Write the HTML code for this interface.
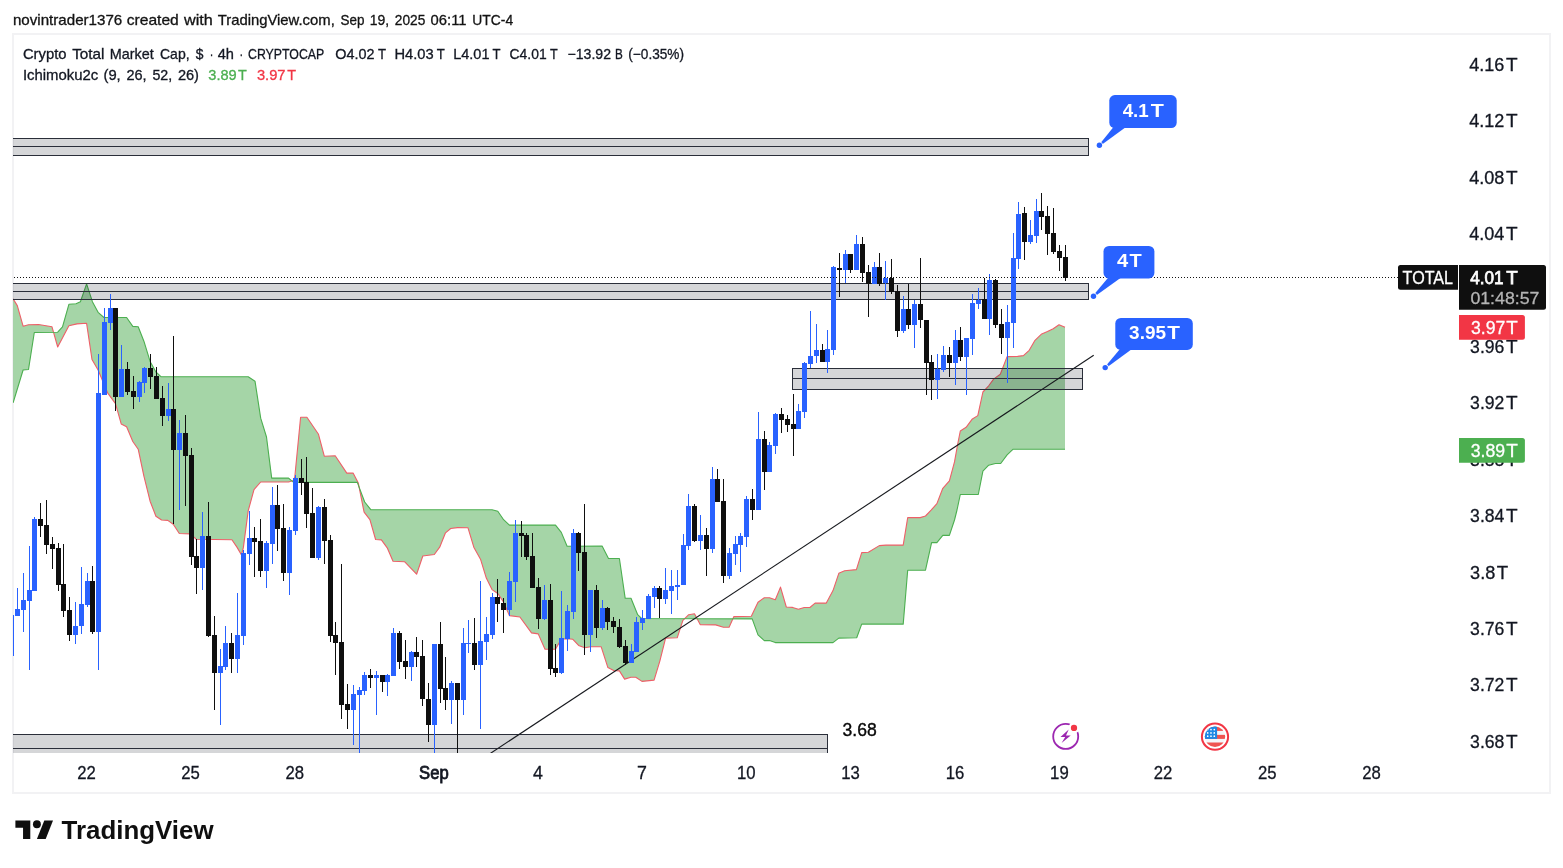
<!DOCTYPE html>
<html lang="en"><head><meta charset="utf-8"><title>TOTAL chart</title>
<style>html,body{margin:0;padding:0;background:#fff}body{width:1563px;height:868px;overflow:hidden}svg{display:block;font-family:"Liberation Sans", Arial, sans-serif}text{white-space:pre}</style></head><body>
<svg width="1563" height="868" viewBox="0 0 1563 868">
<rect width="1563" height="868" fill="#fff"/>
<rect x="13" y="34" width="1537" height="759" fill="none" stroke="#f2f2f4" stroke-width="2"/>
<text y="25" font-size="14.4" fill="#131313" stroke="#131313" stroke-width="0.3"><tspan x="12.9" textLength="109.4" lengthAdjust="spacingAndGlyphs">novintrader1376</tspan> <tspan x="126.7" textLength="52.1" lengthAdjust="spacingAndGlyphs">created</tspan> <tspan x="184.0" textLength="28.8" lengthAdjust="spacingAndGlyphs">with</tspan> <tspan x="217.7" textLength="117.1" lengthAdjust="spacingAndGlyphs">TradingView.com,</tspan> <tspan x="340.5" textLength="23.9" lengthAdjust="spacingAndGlyphs">Sep</tspan> <tspan x="369.7" textLength="19.4" lengthAdjust="spacingAndGlyphs">19,</tspan> <tspan x="394.8" textLength="30.5" lengthAdjust="spacingAndGlyphs">2025</tspan> <tspan x="430.6" textLength="35.9" lengthAdjust="spacingAndGlyphs">06:11</tspan> <tspan x="472.3" textLength="40.8" lengthAdjust="spacingAndGlyphs">UTC-4</tspan></text>
<text y="58.8" font-size="14.4" fill="#131722" stroke="#131722" stroke-width="0.3"><tspan x="22.9" textLength="43.6" lengthAdjust="spacingAndGlyphs">Crypto</tspan> <tspan x="72.2" textLength="32.3" lengthAdjust="spacingAndGlyphs">Total</tspan> <tspan x="109.8" textLength="44.0" lengthAdjust="spacingAndGlyphs">Market</tspan> <tspan x="160.0" textLength="29.6" lengthAdjust="spacingAndGlyphs">Cap,</tspan> <tspan x="195.8" textLength="7.7" lengthAdjust="spacingAndGlyphs">$</tspan> <tspan x="209.7" textLength="3.6" lengthAdjust="spacingAndGlyphs">·</tspan> <tspan x="217.7" textLength="16.3" lengthAdjust="spacingAndGlyphs">4h</tspan> <tspan x="239.5" textLength="3.6" lengthAdjust="spacingAndGlyphs">·</tspan> <tspan x="248.0" textLength="76.0" lengthAdjust="spacingAndGlyphs">CRYPTOCAP</tspan> <tspan x="335.3" textLength="39.2" lengthAdjust="spacingAndGlyphs">O4.02</tspan> <tspan x="377.9" textLength="7.8" lengthAdjust="spacingAndGlyphs">T</tspan> <tspan x="394.4" textLength="39.2" lengthAdjust="spacingAndGlyphs">H4.03</tspan> <tspan x="436.7" textLength="7.8" lengthAdjust="spacingAndGlyphs">T</tspan> <tspan x="453.2" textLength="36.3" lengthAdjust="spacingAndGlyphs">L4.01</tspan> <tspan x="492.6" textLength="7.8" lengthAdjust="spacingAndGlyphs">T</tspan> <tspan x="509.6" textLength="37.0" lengthAdjust="spacingAndGlyphs">C4.01</tspan> <tspan x="550.0" textLength="7.5" lengthAdjust="spacingAndGlyphs">T</tspan> <tspan x="567.5" textLength="43.5" lengthAdjust="spacingAndGlyphs">−13.92</tspan> <tspan x="614.9" textLength="7.8" lengthAdjust="spacingAndGlyphs">B</tspan> <tspan x="628.3" textLength="55.7" lengthAdjust="spacingAndGlyphs">(−0.35%)</tspan></text>
<text y="79.9" font-size="14.4" fill="#131722" stroke="#131722" stroke-width="0.3"><tspan x="22.9" textLength="75.4" lengthAdjust="spacingAndGlyphs">Ichimoku2c</tspan> <tspan x="103.5" textLength="17.2" lengthAdjust="spacingAndGlyphs">(9,</tspan> <tspan x="126.4" textLength="20.2" lengthAdjust="spacingAndGlyphs">26,</tspan> <tspan x="152.4" textLength="19.8" lengthAdjust="spacingAndGlyphs">52,</tspan> <tspan x="177.9" textLength="21.1" lengthAdjust="spacingAndGlyphs">26)</tspan></text>
<text y="79.9" font-size="14.4" fill="#4caf50" stroke="#4caf50" stroke-width="0.3"><tspan x="208.3" textLength="28.4" lengthAdjust="spacingAndGlyphs">3.89</tspan> <tspan x="237.9" textLength="8.8" lengthAdjust="spacingAndGlyphs">T</tspan></text>
<text y="79.9" font-size="14.4" fill="#f23645" stroke="#f23645" stroke-width="0.3"><tspan x="256.9" textLength="28.6" lengthAdjust="spacingAndGlyphs">3.97</tspan> <tspan x="287.2" textLength="8.8" lengthAdjust="spacingAndGlyphs">T</tspan></text>
<defs><clipPath id="pane"><rect x="13" y="35" width="1446" height="718"/></clipPath></defs>
<g clip-path="url(#pane)">
<polygon points="13.1,402.8 23.1,370.0 28.5,369.5 34.3,332.5 57.7,332.2 62.5,326.8 68.9,304.3 76.0,303.7 80.4,301.7 86.6,283.9 92.4,301.7 98.1,312.3 103.9,317.5 126.6,317.5 132.8,326.4 138.2,326.8 143.9,341.2 150.1,361.4 155.9,372.0 161.2,376.8 248.2,376.8 255.0,381.2 260.7,418.2 266.5,437.0 271.7,478.1 288.6,478.1 292.9,481.8 294.8,482.4 357.3,482.4 364.7,502.0 370.8,509.7 492.0,509.7 497.8,511.2 503.6,519.7 509.4,525.1 555.5,525.1 561.3,532.4 567.1,546.2 602.1,546.0 608.5,558.5 619.4,558.5 625.2,598.3 631.0,598.3 637.7,614.7 641.6,618.5 752.2,618.9 758.0,634.9 764.3,640.6 769.5,640.6 775.3,642.6 833.0,642.6 838.8,638.1 856.7,637.8 861.7,624.1 903.2,624.1 907.7,570.2 925.5,570.2 931.6,542.6 936.9,542.6 942.8,535.4 949.4,535.4 954.5,520.0 957.0,510.0 960.3,494.5 978.3,494.5 982.9,471.1 988.7,465.2 995.4,463.5 1000.7,463.5 1007.1,454.9 1012.9,449.3 1065.0,449.3 1065.0,327.2 1059.0,324.7 1053.2,328.7 1047.5,331.6 1041.7,333.9 1035.0,340.3 1029.2,350.3 1023.4,355.6 1017.6,356.4 1007.1,356.6 1000.3,374.3 993.6,379.1 988.7,385.8 982.9,392.0 977.8,415.6 972.0,419.3 966.1,427.3 960.3,431.0 957.8,443.5 954.5,461.9 949.4,480.8 942.8,488.3 936.9,503.6 931.1,510.2 925.5,516.0 920.2,517.6 907.7,517.6 903.2,545.1 885.9,545.1 879.3,545.6 868.4,552.3 861.7,552.6 856.4,569.6 844.6,570.8 838.8,573.3 833.0,590.6 826.3,603.1 815.1,603.1 809.9,607.5 804.2,607.5 798.4,609.3 792.6,607.4 786.3,607.0 780.5,587.1 775.3,599.7 769.5,597.7 764.3,597.7 758.0,602.2 751.3,616.2 733.9,616.6 729.1,627.2 723.4,627.2 715.7,624.9 700.3,624.7 694.5,613.7 688.7,614.7 682.9,620.4 677.2,637.8 665.6,638.1 659.9,660.8 654.1,680.1 642.0,681.4 635.8,677.2 631.0,677.2 624.6,679.1 619.4,670.9 613.7,670.5 607.9,667.6 601.2,646.8 590.6,646.8 584.8,647.8 578.6,645.4 572.9,639.3 567.1,638.7 561.3,639.1 555.5,649.3 545.0,649.3 538.2,633.9 531.5,632.9 519.9,617.0 509.4,615.6 503.6,602.1 497.8,593.5 492.0,589.6 486.3,578.1 480.5,559.2 473.8,547.2 468.0,527.8 457.4,527.6 450.7,528.5 445.5,532.8 439.7,547.2 434.3,554.5 422.8,556.0 416.6,574.2 404.5,561.7 393.0,561.2 387.2,547.8 381.4,539.9 375.6,539.5 369.9,519.7 364.1,512.2 358.3,483.1 353.1,473.1 346.8,473.1 335.2,455.8 324.3,456.2 318.5,434.3 306.9,417.3 300.6,417.3 294.8,477.0 293.4,480.4 288.6,482.0 260.7,482.0 254.0,489.6 248.2,510.8 243.4,547.4 241.5,555.0 237.1,547.4 231.9,539.7 196.3,539.3 190.5,533.9 179.3,533.5 173.2,524.3 167.8,520.4 161.6,520.0 155.9,516.2 150.1,501.2 143.9,476.2 138.2,449.2 132.8,441.5 126.6,426.8 121.2,423.9 115.5,403.7 107.8,393.2 98.1,370.0 92.0,359.5 86.6,323.3 77.0,323.9 68.9,325.8 57.7,347.0 52.0,326.8 38.5,324.5 28.5,324.8 23.1,326.2 17.3,305.6 13.1,298.9" fill="rgba(76,172,80,0.5)" fill-rule="nonzero"/>
<polyline points="13.1,298.9 17.3,305.6 23.1,326.2 28.5,324.8 38.5,324.5 52.0,326.8 57.7,347.0 68.9,325.8 77.0,323.9 86.6,323.3 92.0,359.5 98.1,370.0 107.8,393.2 115.5,403.7 121.2,423.9 126.6,426.8 132.8,441.5 138.2,449.2 143.9,476.2 150.1,501.2 155.9,516.2 161.6,520.0 167.8,520.4 173.2,524.3 179.3,533.5 190.5,533.9 196.3,539.3 231.9,539.7 237.1,547.4 241.5,555.0 243.4,547.4 248.2,510.8 254.0,489.6 260.7,482.0 288.6,482.0 293.4,480.4 294.8,477.0 300.6,417.3 306.9,417.3 318.5,434.3 324.3,456.2 335.2,455.8 346.8,473.1 353.1,473.1 358.3,483.1 364.1,512.2 369.9,519.7 375.6,539.5 381.4,539.9 387.2,547.8 393.0,561.2 404.5,561.7 416.6,574.2 422.8,556.0 434.3,554.5 439.7,547.2 445.5,532.8 450.7,528.5 457.4,527.6 468.0,527.8 473.8,547.2 480.5,559.2 486.3,578.1 492.0,589.6 497.8,593.5 503.6,602.1 509.4,615.6 519.9,617.0 531.5,632.9 538.2,633.9 545.0,649.3 555.5,649.3 561.3,639.1 567.1,638.7 572.9,639.3 578.6,645.4 584.8,647.8 590.6,646.8 601.2,646.8 607.9,667.6 613.7,670.5 619.4,670.9 624.6,679.1 631.0,677.2 635.8,677.2 642.0,681.4 654.1,680.1 659.9,660.8 665.6,638.1 677.2,637.8 682.9,620.4 688.7,614.7 694.5,613.7 700.3,624.7 715.7,624.9 723.4,627.2 729.1,627.2 733.9,616.6 751.3,616.2 758.0,602.2 764.3,597.7 769.5,597.7 775.3,599.7 780.5,587.1 786.3,607.0 792.6,607.4 798.4,609.3 804.2,607.5 809.9,607.5 815.1,603.1 826.3,603.1 833.0,590.6 838.8,573.3 844.6,570.8 856.4,569.6 861.7,552.6 868.4,552.3 879.3,545.6 885.9,545.1 903.2,545.1 907.7,517.6 920.2,517.6 925.5,516.0 931.1,510.2 936.9,503.6 942.8,488.3 949.4,480.8 954.5,461.9 957.8,443.5 960.3,431.0 966.1,427.3 972.0,419.3 977.8,415.6 982.9,392.0 988.7,385.8 993.6,379.1 1000.3,374.3 1007.1,356.6 1017.6,356.4 1023.4,355.6 1029.2,350.3 1035.0,340.3 1041.7,333.9 1047.5,331.6 1053.2,328.7 1059.0,324.7 1065.0,327.2" fill="none" stroke="#ee5f68" stroke-width="1.1" stroke-linejoin="round"/>
<polyline points="13.1,402.8 23.1,370.0 28.5,369.5 34.3,332.5 57.7,332.2 62.5,326.8 68.9,304.3 76.0,303.7 80.4,301.7 86.6,283.9 92.4,301.7 98.1,312.3 103.9,317.5 126.6,317.5 132.8,326.4 138.2,326.8 143.9,341.2 150.1,361.4 155.9,372.0 161.2,376.8 248.2,376.8 255.0,381.2 260.7,418.2 266.5,437.0 271.7,478.1 288.6,478.1 292.9,481.8 294.8,482.4 357.3,482.4 364.7,502.0 370.8,509.7 492.0,509.7 497.8,511.2 503.6,519.7 509.4,525.1 555.5,525.1 561.3,532.4 567.1,546.2 602.1,546.0 608.5,558.5 619.4,558.5 625.2,598.3 631.0,598.3 637.7,614.7 641.6,618.5 752.2,618.9 758.0,634.9 764.3,640.6 769.5,640.6 775.3,642.6 833.0,642.6 838.8,638.1 856.7,637.8 861.7,624.1 903.2,624.1 907.7,570.2 925.5,570.2 931.6,542.6 936.9,542.6 942.8,535.4 949.4,535.4 954.5,520.0 957.0,510.0 960.3,494.5 978.3,494.5 982.9,471.1 988.7,465.2 995.4,463.5 1000.7,463.5 1007.1,454.9 1012.9,449.3 1065.0,449.3" fill="none" stroke="#4caf50" stroke-width="1.1" stroke-linejoin="round"/>
<rect x="0" y="138.5" width="1088.5" height="17.0" fill="rgba(19,23,34,0.178)"/>
<g shape-rendering="crispEdges">
<line x1="0" y1="138.5" x2="1088.5" y2="138.5" stroke="#2a2e39" stroke-width="1"/>
<line x1="0" y1="146.5" x2="1088.5" y2="146.5" stroke="#2a2e39" stroke-width="1"/>
<line x1="0" y1="155.5" x2="1088.5" y2="155.5" stroke="#2a2e39" stroke-width="1"/>
<line x1="1088.5" y1="138.0" x2="1088.5" y2="156.0" stroke="#2a2e39" stroke-width="1"/>
</g>
<rect x="0" y="283.5" width="1088.5" height="16.0" fill="rgba(19,23,34,0.178)"/>
<g shape-rendering="crispEdges">
<line x1="0" y1="283.5" x2="1088.5" y2="283.5" stroke="#2a2e39" stroke-width="1"/>
<line x1="0" y1="291.5" x2="1088.5" y2="291.5" stroke="#2a2e39" stroke-width="1"/>
<line x1="0" y1="299.5" x2="1088.5" y2="299.5" stroke="#2a2e39" stroke-width="1"/>
<line x1="1088.5" y1="283.0" x2="1088.5" y2="300.0" stroke="#2a2e39" stroke-width="1"/>
</g>
<rect x="792.5" y="368.5" width="290.0" height="21.0" fill="rgba(19,23,34,0.178)"/>
<g shape-rendering="crispEdges">
<line x1="792.5" y1="368.5" x2="1082.5" y2="368.5" stroke="#2a2e39" stroke-width="1"/>
<line x1="792.5" y1="378.5" x2="1082.5" y2="378.5" stroke="#2a2e39" stroke-width="1"/>
<line x1="792.5" y1="389.5" x2="1082.5" y2="389.5" stroke="#2a2e39" stroke-width="1"/>
<line x1="1082.5" y1="368.0" x2="1082.5" y2="390.0" stroke="#2a2e39" stroke-width="1"/>
<line x1="792.5" y1="368.0" x2="792.5" y2="390.0" stroke="#2a2e39" stroke-width="1"/>
</g>
<rect x="0" y="734.5" width="827.5" height="28.0" fill="rgba(19,23,34,0.178)"/>
<g shape-rendering="crispEdges">
<line x1="0" y1="734.5" x2="827.5" y2="734.5" stroke="#2a2e39" stroke-width="1"/>
<line x1="0" y1="748.5" x2="827.5" y2="748.5" stroke="#2a2e39" stroke-width="1"/>
<line x1="0" y1="762.5" x2="827.5" y2="762.5" stroke="#2a2e39" stroke-width="1"/>
<line x1="827.5" y1="734.0" x2="827.5" y2="763.0" stroke="#2a2e39" stroke-width="1"/>
</g>
<line x1="476.3" y1="762.7" x2="1093.7" y2="355.3" stroke="#16181d" stroke-width="1.1"/>
<g shape-rendering="crispEdges">
<rect x="13" y="615" width="1" height="41" fill="#2962ff"/>
<rect x="17" y="588" width="1" height="28" fill="#2962ff"/>
<rect x="15" y="609" width="5" height="7" fill="#2962ff"/>
<rect x="23" y="573" width="1" height="59" fill="#2962ff"/>
<rect x="21" y="600" width="5" height="10" fill="#2962ff"/>
<rect x="29" y="546" width="1" height="124" fill="#2962ff"/>
<rect x="27" y="590" width="5" height="11" fill="#2962ff"/>
<rect x="34" y="517" width="1" height="74" fill="#2962ff"/>
<rect x="32" y="519" width="5" height="72" fill="#2962ff"/>
<rect x="40" y="503" width="1" height="34" fill="#0f0f0f"/>
<rect x="38" y="519" width="5" height="7" fill="#0f0f0f"/>
<rect x="46" y="500" width="1" height="54" fill="#0f0f0f"/>
<rect x="44" y="525" width="5" height="20" fill="#0f0f0f"/>
<rect x="52" y="537" width="1" height="32" fill="#0f0f0f"/>
<rect x="50" y="544" width="5" height="5" fill="#0f0f0f"/>
<rect x="58" y="543" width="1" height="48" fill="#0f0f0f"/>
<rect x="56" y="548" width="5" height="37" fill="#0f0f0f"/>
<rect x="63" y="544" width="1" height="73" fill="#0f0f0f"/>
<rect x="61" y="584" width="5" height="27" fill="#0f0f0f"/>
<rect x="69" y="597" width="1" height="44" fill="#0f0f0f"/>
<rect x="67" y="610" width="5" height="25" fill="#0f0f0f"/>
<rect x="75" y="602" width="1" height="42" fill="#2962ff"/>
<rect x="73" y="626" width="5" height="9" fill="#2962ff"/>
<rect x="81" y="567" width="1" height="67" fill="#2962ff"/>
<rect x="79" y="604" width="5" height="22" fill="#2962ff"/>
<rect x="87" y="573" width="1" height="34" fill="#2962ff"/>
<rect x="85" y="581" width="5" height="24" fill="#2962ff"/>
<rect x="92" y="566" width="1" height="68" fill="#0f0f0f"/>
<rect x="90" y="581" width="5" height="51" fill="#0f0f0f"/>
<rect x="98" y="354" width="1" height="316" fill="#2962ff"/>
<rect x="96" y="393" width="5" height="239" fill="#2962ff"/>
<rect x="104" y="308" width="1" height="87" fill="#2962ff"/>
<rect x="102" y="322" width="5" height="73" fill="#2962ff"/>
<rect x="110" y="294" width="1" height="36" fill="#2962ff"/>
<rect x="108" y="308" width="5" height="15" fill="#2962ff"/>
<rect x="115" y="308" width="1" height="103" fill="#0f0f0f"/>
<rect x="113" y="308" width="5" height="89" fill="#0f0f0f"/>
<rect x="121" y="345" width="1" height="52" fill="#2962ff"/>
<rect x="119" y="369" width="5" height="28" fill="#2962ff"/>
<rect x="127" y="362" width="1" height="33" fill="#0f0f0f"/>
<rect x="125" y="369" width="5" height="23" fill="#0f0f0f"/>
<rect x="133" y="376" width="1" height="33" fill="#0f0f0f"/>
<rect x="131" y="391" width="5" height="6" fill="#0f0f0f"/>
<rect x="139" y="381" width="1" height="21" fill="#2962ff"/>
<rect x="137" y="382" width="5" height="15" fill="#2962ff"/>
<rect x="144" y="367" width="1" height="26" fill="#2962ff"/>
<rect x="142" y="368" width="5" height="15" fill="#2962ff"/>
<rect x="150" y="354" width="1" height="35" fill="#0f0f0f"/>
<rect x="148" y="368" width="5" height="9" fill="#0f0f0f"/>
<rect x="156" y="367" width="1" height="32" fill="#0f0f0f"/>
<rect x="154" y="376" width="5" height="23" fill="#0f0f0f"/>
<rect x="162" y="386" width="1" height="40" fill="#0f0f0f"/>
<rect x="160" y="398" width="5" height="18" fill="#0f0f0f"/>
<rect x="168" y="383" width="1" height="38" fill="#2962ff"/>
<rect x="166" y="409" width="5" height="7" fill="#2962ff"/>
<rect x="173" y="336" width="1" height="188" fill="#0f0f0f"/>
<rect x="171" y="409" width="5" height="41" fill="#0f0f0f"/>
<rect x="179" y="420" width="1" height="90" fill="#2962ff"/>
<rect x="177" y="433" width="5" height="17" fill="#2962ff"/>
<rect x="185" y="415" width="1" height="91" fill="#0f0f0f"/>
<rect x="183" y="433" width="5" height="23" fill="#0f0f0f"/>
<rect x="191" y="448" width="1" height="117" fill="#0f0f0f"/>
<rect x="189" y="455" width="5" height="102" fill="#0f0f0f"/>
<rect x="196" y="539" width="1" height="55" fill="#0f0f0f"/>
<rect x="194" y="556" width="5" height="12" fill="#0f0f0f"/>
<rect x="202" y="512" width="1" height="78" fill="#2962ff"/>
<rect x="200" y="536" width="5" height="32" fill="#2962ff"/>
<rect x="208" y="502" width="1" height="135" fill="#0f0f0f"/>
<rect x="206" y="536" width="5" height="100" fill="#0f0f0f"/>
<rect x="214" y="616" width="1" height="94" fill="#0f0f0f"/>
<rect x="212" y="635" width="5" height="38" fill="#0f0f0f"/>
<rect x="220" y="649" width="1" height="76" fill="#2962ff"/>
<rect x="218" y="666" width="5" height="7" fill="#2962ff"/>
<rect x="225" y="626" width="1" height="44" fill="#2962ff"/>
<rect x="223" y="643" width="5" height="24" fill="#2962ff"/>
<rect x="231" y="633" width="1" height="40" fill="#0f0f0f"/>
<rect x="229" y="643" width="5" height="16" fill="#0f0f0f"/>
<rect x="237" y="593" width="1" height="80" fill="#2962ff"/>
<rect x="235" y="635" width="5" height="24" fill="#2962ff"/>
<rect x="243" y="550" width="1" height="95" fill="#2962ff"/>
<rect x="241" y="553" width="5" height="83" fill="#2962ff"/>
<rect x="249" y="511" width="1" height="54" fill="#2962ff"/>
<rect x="247" y="538" width="5" height="16" fill="#2962ff"/>
<rect x="254" y="527" width="1" height="50" fill="#0f0f0f"/>
<rect x="252" y="538" width="5" height="4" fill="#0f0f0f"/>
<rect x="260" y="519" width="1" height="58" fill="#0f0f0f"/>
<rect x="258" y="541" width="5" height="30" fill="#0f0f0f"/>
<rect x="266" y="541" width="1" height="47" fill="#2962ff"/>
<rect x="264" y="543" width="5" height="28" fill="#2962ff"/>
<rect x="272" y="487" width="1" height="77" fill="#2962ff"/>
<rect x="270" y="505" width="5" height="39" fill="#2962ff"/>
<rect x="277" y="485" width="1" height="66" fill="#0f0f0f"/>
<rect x="275" y="505" width="5" height="24" fill="#0f0f0f"/>
<rect x="283" y="504" width="1" height="77" fill="#0f0f0f"/>
<rect x="281" y="528" width="5" height="45" fill="#0f0f0f"/>
<rect x="289" y="527" width="1" height="68" fill="#2962ff"/>
<rect x="287" y="530" width="5" height="43" fill="#2962ff"/>
<rect x="295" y="475" width="1" height="60" fill="#2962ff"/>
<rect x="293" y="478" width="5" height="53" fill="#2962ff"/>
<rect x="301" y="459" width="1" height="36" fill="#0f0f0f"/>
<rect x="299" y="478" width="5" height="5" fill="#0f0f0f"/>
<rect x="306" y="457" width="1" height="71" fill="#0f0f0f"/>
<rect x="304" y="482" width="5" height="32" fill="#0f0f0f"/>
<rect x="312" y="488" width="1" height="70" fill="#0f0f0f"/>
<rect x="310" y="513" width="5" height="45" fill="#0f0f0f"/>
<rect x="318" y="506" width="1" height="54" fill="#2962ff"/>
<rect x="316" y="507" width="5" height="51" fill="#2962ff"/>
<rect x="324" y="499" width="1" height="65" fill="#0f0f0f"/>
<rect x="322" y="507" width="5" height="34" fill="#0f0f0f"/>
<rect x="330" y="535" width="1" height="107" fill="#0f0f0f"/>
<rect x="328" y="540" width="5" height="96" fill="#0f0f0f"/>
<rect x="335" y="622" width="1" height="53" fill="#0f0f0f"/>
<rect x="333" y="635" width="5" height="8" fill="#0f0f0f"/>
<rect x="341" y="564" width="1" height="155" fill="#0f0f0f"/>
<rect x="339" y="642" width="5" height="63" fill="#0f0f0f"/>
<rect x="347" y="684" width="1" height="45" fill="#0f0f0f"/>
<rect x="345" y="704" width="5" height="6" fill="#0f0f0f"/>
<rect x="353" y="685" width="1" height="60" fill="#2962ff"/>
<rect x="351" y="694" width="5" height="16" fill="#2962ff"/>
<rect x="359" y="687" width="1" height="66" fill="#2962ff"/>
<rect x="357" y="690" width="5" height="5" fill="#2962ff"/>
<rect x="364" y="672" width="1" height="23" fill="#2962ff"/>
<rect x="362" y="675" width="5" height="16" fill="#2962ff"/>
<rect x="370" y="669" width="1" height="19" fill="#0f0f0f"/>
<rect x="368" y="675" width="5" height="3" fill="#0f0f0f"/>
<rect x="376" y="671" width="1" height="44" fill="#2962ff"/>
<rect x="374" y="675" width="5" height="3" fill="#2962ff"/>
<rect x="382" y="675" width="1" height="17" fill="#0f0f0f"/>
<rect x="380" y="675" width="5" height="7" fill="#0f0f0f"/>
<rect x="387" y="674" width="1" height="22" fill="#2962ff"/>
<rect x="385" y="675" width="5" height="7" fill="#2962ff"/>
<rect x="393" y="628" width="1" height="48" fill="#2962ff"/>
<rect x="391" y="633" width="5" height="43" fill="#2962ff"/>
<rect x="399" y="631" width="1" height="38" fill="#0f0f0f"/>
<rect x="397" y="633" width="5" height="29" fill="#0f0f0f"/>
<rect x="405" y="640" width="1" height="39" fill="#0f0f0f"/>
<rect x="403" y="661" width="5" height="6" fill="#0f0f0f"/>
<rect x="411" y="651" width="1" height="30" fill="#2962ff"/>
<rect x="409" y="652" width="5" height="15" fill="#2962ff"/>
<rect x="416" y="637" width="1" height="30" fill="#0f0f0f"/>
<rect x="414" y="652" width="5" height="5" fill="#0f0f0f"/>
<rect x="422" y="640" width="1" height="66" fill="#0f0f0f"/>
<rect x="420" y="656" width="5" height="43" fill="#0f0f0f"/>
<rect x="428" y="683" width="1" height="59" fill="#0f0f0f"/>
<rect x="426" y="699" width="5" height="26" fill="#0f0f0f"/>
<rect x="434" y="644" width="1" height="109" fill="#2962ff"/>
<rect x="432" y="644" width="5" height="81" fill="#2962ff"/>
<rect x="440" y="622" width="1" height="81" fill="#0f0f0f"/>
<rect x="438" y="644" width="5" height="45" fill="#0f0f0f"/>
<rect x="445" y="657" width="1" height="53" fill="#0f0f0f"/>
<rect x="443" y="688" width="5" height="12" fill="#0f0f0f"/>
<rect x="451" y="681" width="1" height="43" fill="#2962ff"/>
<rect x="449" y="683" width="5" height="17" fill="#2962ff"/>
<rect x="457" y="683" width="1" height="70" fill="#0f0f0f"/>
<rect x="455" y="683" width="5" height="17" fill="#0f0f0f"/>
<rect x="463" y="628" width="1" height="87" fill="#2962ff"/>
<rect x="461" y="643" width="5" height="57" fill="#2962ff"/>
<rect x="468" y="620" width="1" height="33" fill="#2962ff"/>
<rect x="466" y="643" width="5" height="1" fill="#2962ff"/>
<rect x="474" y="618" width="1" height="52" fill="#0f0f0f"/>
<rect x="472" y="643" width="5" height="22" fill="#0f0f0f"/>
<rect x="480" y="581" width="1" height="148" fill="#2962ff"/>
<rect x="478" y="641" width="5" height="24" fill="#2962ff"/>
<rect x="486" y="617" width="1" height="43" fill="#2962ff"/>
<rect x="484" y="634" width="5" height="8" fill="#2962ff"/>
<rect x="492" y="593" width="1" height="46" fill="#2962ff"/>
<rect x="490" y="597" width="5" height="38" fill="#2962ff"/>
<rect x="497" y="579" width="1" height="43" fill="#0f0f0f"/>
<rect x="495" y="597" width="5" height="7" fill="#0f0f0f"/>
<rect x="503" y="598" width="1" height="35" fill="#0f0f0f"/>
<rect x="501" y="603" width="5" height="7" fill="#0f0f0f"/>
<rect x="509" y="572" width="1" height="44" fill="#2962ff"/>
<rect x="507" y="581" width="5" height="29" fill="#2962ff"/>
<rect x="515" y="520" width="1" height="82" fill="#2962ff"/>
<rect x="513" y="533" width="5" height="49" fill="#2962ff"/>
<rect x="521" y="521" width="1" height="36" fill="#0f0f0f"/>
<rect x="519" y="533" width="5" height="3" fill="#0f0f0f"/>
<rect x="526" y="533" width="1" height="27" fill="#0f0f0f"/>
<rect x="524" y="535" width="5" height="22" fill="#0f0f0f"/>
<rect x="532" y="533" width="1" height="55" fill="#0f0f0f"/>
<rect x="530" y="556" width="5" height="32" fill="#0f0f0f"/>
<rect x="538" y="578" width="1" height="51" fill="#0f0f0f"/>
<rect x="536" y="587" width="5" height="32" fill="#0f0f0f"/>
<rect x="544" y="585" width="1" height="35" fill="#2962ff"/>
<rect x="542" y="600" width="5" height="19" fill="#2962ff"/>
<rect x="550" y="584" width="1" height="91" fill="#0f0f0f"/>
<rect x="548" y="600" width="5" height="69" fill="#0f0f0f"/>
<rect x="555" y="644" width="1" height="33" fill="#0f0f0f"/>
<rect x="553" y="668" width="5" height="5" fill="#0f0f0f"/>
<rect x="561" y="591" width="1" height="83" fill="#2962ff"/>
<rect x="559" y="638" width="5" height="35" fill="#2962ff"/>
<rect x="567" y="605" width="1" height="46" fill="#2962ff"/>
<rect x="565" y="611" width="5" height="28" fill="#2962ff"/>
<rect x="573" y="529" width="1" height="90" fill="#2962ff"/>
<rect x="571" y="533" width="5" height="79" fill="#2962ff"/>
<rect x="578" y="532" width="1" height="39" fill="#0f0f0f"/>
<rect x="576" y="533" width="5" height="20" fill="#0f0f0f"/>
<rect x="584" y="504" width="1" height="151" fill="#0f0f0f"/>
<rect x="582" y="552" width="5" height="83" fill="#0f0f0f"/>
<rect x="590" y="590" width="1" height="62" fill="#2962ff"/>
<rect x="588" y="590" width="5" height="45" fill="#2962ff"/>
<rect x="596" y="585" width="1" height="53" fill="#0f0f0f"/>
<rect x="594" y="590" width="5" height="38" fill="#0f0f0f"/>
<rect x="602" y="600" width="1" height="30" fill="#2962ff"/>
<rect x="600" y="608" width="5" height="20" fill="#2962ff"/>
<rect x="607" y="607" width="1" height="23" fill="#0f0f0f"/>
<rect x="605" y="608" width="5" height="14" fill="#0f0f0f"/>
<rect x="613" y="617" width="1" height="16" fill="#0f0f0f"/>
<rect x="611" y="621" width="5" height="6" fill="#0f0f0f"/>
<rect x="619" y="619" width="1" height="29" fill="#0f0f0f"/>
<rect x="617" y="627" width="5" height="20" fill="#0f0f0f"/>
<rect x="625" y="640" width="1" height="25" fill="#0f0f0f"/>
<rect x="623" y="646" width="5" height="17" fill="#0f0f0f"/>
<rect x="631" y="644" width="1" height="19" fill="#2962ff"/>
<rect x="629" y="651" width="5" height="12" fill="#2962ff"/>
<rect x="636" y="617" width="1" height="35" fill="#2962ff"/>
<rect x="634" y="622" width="5" height="30" fill="#2962ff"/>
<rect x="642" y="610" width="1" height="20" fill="#2962ff"/>
<rect x="640" y="618" width="5" height="5" fill="#2962ff"/>
<rect x="648" y="594" width="1" height="25" fill="#2962ff"/>
<rect x="646" y="596" width="5" height="23" fill="#2962ff"/>
<rect x="654" y="586" width="1" height="22" fill="#2962ff"/>
<rect x="652" y="588" width="5" height="9" fill="#2962ff"/>
<rect x="659" y="586" width="1" height="32" fill="#0f0f0f"/>
<rect x="657" y="588" width="5" height="11" fill="#0f0f0f"/>
<rect x="665" y="568" width="1" height="36" fill="#2962ff"/>
<rect x="663" y="590" width="5" height="9" fill="#2962ff"/>
<rect x="671" y="570" width="1" height="44" fill="#2962ff"/>
<rect x="669" y="586" width="5" height="5" fill="#2962ff"/>
<rect x="677" y="570" width="1" height="30" fill="#2962ff"/>
<rect x="675" y="585" width="5" height="2" fill="#2962ff"/>
<rect x="683" y="534" width="1" height="51" fill="#2962ff"/>
<rect x="681" y="545" width="5" height="40" fill="#2962ff"/>
<rect x="688" y="494" width="1" height="56" fill="#2962ff"/>
<rect x="686" y="506" width="5" height="40" fill="#2962ff"/>
<rect x="694" y="504" width="1" height="38" fill="#0f0f0f"/>
<rect x="692" y="506" width="5" height="35" fill="#0f0f0f"/>
<rect x="700" y="515" width="1" height="35" fill="#2962ff"/>
<rect x="698" y="535" width="5" height="6" fill="#2962ff"/>
<rect x="706" y="528" width="1" height="48" fill="#0f0f0f"/>
<rect x="704" y="535" width="5" height="14" fill="#0f0f0f"/>
<rect x="712" y="467" width="1" height="86" fill="#2962ff"/>
<rect x="710" y="479" width="5" height="70" fill="#2962ff"/>
<rect x="717" y="469" width="1" height="33" fill="#0f0f0f"/>
<rect x="715" y="479" width="5" height="23" fill="#0f0f0f"/>
<rect x="723" y="479" width="1" height="104" fill="#0f0f0f"/>
<rect x="721" y="501" width="5" height="75" fill="#0f0f0f"/>
<rect x="729" y="548" width="1" height="31" fill="#2962ff"/>
<rect x="727" y="553" width="5" height="23" fill="#2962ff"/>
<rect x="735" y="536" width="1" height="29" fill="#2962ff"/>
<rect x="733" y="544" width="5" height="10" fill="#2962ff"/>
<rect x="740" y="533" width="1" height="39" fill="#2962ff"/>
<rect x="738" y="536" width="5" height="9" fill="#2962ff"/>
<rect x="746" y="496" width="1" height="51" fill="#2962ff"/>
<rect x="744" y="499" width="5" height="38" fill="#2962ff"/>
<rect x="752" y="489" width="1" height="31" fill="#0f0f0f"/>
<rect x="750" y="499" width="5" height="11" fill="#0f0f0f"/>
<rect x="758" y="412" width="1" height="98" fill="#2962ff"/>
<rect x="756" y="439" width="5" height="71" fill="#2962ff"/>
<rect x="764" y="431" width="1" height="59" fill="#0f0f0f"/>
<rect x="762" y="439" width="5" height="33" fill="#0f0f0f"/>
<rect x="769" y="442" width="1" height="30" fill="#2962ff"/>
<rect x="767" y="445" width="5" height="27" fill="#2962ff"/>
<rect x="775" y="413" width="1" height="41" fill="#2962ff"/>
<rect x="773" y="414" width="5" height="32" fill="#2962ff"/>
<rect x="781" y="408" width="1" height="25" fill="#0f0f0f"/>
<rect x="779" y="414" width="5" height="6" fill="#0f0f0f"/>
<rect x="787" y="415" width="1" height="17" fill="#0f0f0f"/>
<rect x="785" y="419" width="5" height="6" fill="#0f0f0f"/>
<rect x="793" y="394" width="1" height="62" fill="#0f0f0f"/>
<rect x="791" y="424" width="5" height="5" fill="#0f0f0f"/>
<rect x="798" y="404" width="1" height="25" fill="#2962ff"/>
<rect x="796" y="411" width="5" height="18" fill="#2962ff"/>
<rect x="804" y="362" width="1" height="56" fill="#2962ff"/>
<rect x="802" y="363" width="5" height="49" fill="#2962ff"/>
<rect x="810" y="311" width="1" height="57" fill="#2962ff"/>
<rect x="808" y="356" width="5" height="8" fill="#2962ff"/>
<rect x="816" y="324" width="1" height="39" fill="#2962ff"/>
<rect x="814" y="350" width="5" height="6" fill="#2962ff"/>
<rect x="822" y="344" width="1" height="18" fill="#0f0f0f"/>
<rect x="820" y="350" width="5" height="12" fill="#0f0f0f"/>
<rect x="827" y="330" width="1" height="43" fill="#2962ff"/>
<rect x="825" y="349" width="5" height="13" fill="#2962ff"/>
<rect x="833" y="266" width="1" height="89" fill="#2962ff"/>
<rect x="831" y="267" width="5" height="83" fill="#2962ff"/>
<rect x="839" y="253" width="1" height="44" fill="#0f0f0f"/>
<rect x="837" y="268" width="5" height="2" fill="#0f0f0f"/>
<rect x="845" y="250" width="1" height="33" fill="#2962ff"/>
<rect x="843" y="254" width="5" height="16" fill="#2962ff"/>
<rect x="850" y="254" width="1" height="19" fill="#0f0f0f"/>
<rect x="848" y="254" width="5" height="16" fill="#0f0f0f"/>
<rect x="856" y="235" width="1" height="35" fill="#2962ff"/>
<rect x="854" y="244" width="5" height="26" fill="#2962ff"/>
<rect x="862" y="237" width="1" height="45" fill="#0f0f0f"/>
<rect x="860" y="244" width="5" height="29" fill="#0f0f0f"/>
<rect x="868" y="265" width="1" height="52" fill="#0f0f0f"/>
<rect x="866" y="272" width="5" height="12" fill="#0f0f0f"/>
<rect x="874" y="262" width="1" height="22" fill="#2962ff"/>
<rect x="872" y="267" width="5" height="17" fill="#2962ff"/>
<rect x="879" y="253" width="1" height="33" fill="#0f0f0f"/>
<rect x="877" y="267" width="5" height="17" fill="#0f0f0f"/>
<rect x="885" y="261" width="1" height="39" fill="#2962ff"/>
<rect x="883" y="278" width="5" height="5" fill="#2962ff"/>
<rect x="891" y="259" width="1" height="35" fill="#0f0f0f"/>
<rect x="889" y="278" width="5" height="14" fill="#0f0f0f"/>
<rect x="897" y="285" width="1" height="52" fill="#0f0f0f"/>
<rect x="895" y="291" width="5" height="40" fill="#0f0f0f"/>
<rect x="903" y="296" width="1" height="37" fill="#2962ff"/>
<rect x="901" y="309" width="5" height="22" fill="#2962ff"/>
<rect x="908" y="284" width="1" height="45" fill="#0f0f0f"/>
<rect x="906" y="309" width="5" height="16" fill="#0f0f0f"/>
<rect x="914" y="300" width="1" height="48" fill="#2962ff"/>
<rect x="912" y="304" width="5" height="21" fill="#2962ff"/>
<rect x="920" y="258" width="1" height="70" fill="#0f0f0f"/>
<rect x="918" y="304" width="5" height="16" fill="#0f0f0f"/>
<rect x="926" y="320" width="1" height="75" fill="#0f0f0f"/>
<rect x="924" y="320" width="5" height="43" fill="#0f0f0f"/>
<rect x="931" y="355" width="1" height="45" fill="#0f0f0f"/>
<rect x="929" y="362" width="5" height="18" fill="#0f0f0f"/>
<rect x="937" y="354" width="1" height="45" fill="#2962ff"/>
<rect x="935" y="369" width="5" height="11" fill="#2962ff"/>
<rect x="943" y="346" width="1" height="26" fill="#2962ff"/>
<rect x="941" y="355" width="5" height="15" fill="#2962ff"/>
<rect x="949" y="347" width="1" height="30" fill="#0f0f0f"/>
<rect x="947" y="355" width="5" height="8" fill="#0f0f0f"/>
<rect x="955" y="330" width="1" height="55" fill="#2962ff"/>
<rect x="953" y="340" width="5" height="23" fill="#2962ff"/>
<rect x="960" y="327" width="1" height="34" fill="#0f0f0f"/>
<rect x="958" y="340" width="5" height="17" fill="#0f0f0f"/>
<rect x="966" y="338" width="1" height="57" fill="#2962ff"/>
<rect x="964" y="338" width="5" height="19" fill="#2962ff"/>
<rect x="972" y="294" width="1" height="61" fill="#2962ff"/>
<rect x="970" y="303" width="5" height="36" fill="#2962ff"/>
<rect x="978" y="288" width="1" height="21" fill="#2962ff"/>
<rect x="976" y="300" width="5" height="4" fill="#2962ff"/>
<rect x="984" y="278" width="1" height="41" fill="#0f0f0f"/>
<rect x="982" y="299" width="5" height="20" fill="#0f0f0f"/>
<rect x="989" y="274" width="1" height="61" fill="#2962ff"/>
<rect x="987" y="280" width="5" height="39" fill="#2962ff"/>
<rect x="995" y="279" width="1" height="49" fill="#0f0f0f"/>
<rect x="993" y="280" width="5" height="45" fill="#0f0f0f"/>
<rect x="1001" y="309" width="1" height="45" fill="#0f0f0f"/>
<rect x="999" y="324" width="5" height="14" fill="#0f0f0f"/>
<rect x="1007" y="305" width="1" height="78" fill="#2962ff"/>
<rect x="1005" y="322" width="5" height="16" fill="#2962ff"/>
<rect x="1013" y="233" width="1" height="115" fill="#2962ff"/>
<rect x="1011" y="258" width="5" height="65" fill="#2962ff"/>
<rect x="1018" y="202" width="1" height="67" fill="#2962ff"/>
<rect x="1016" y="214" width="5" height="45" fill="#2962ff"/>
<rect x="1024" y="207" width="1" height="53" fill="#0f0f0f"/>
<rect x="1022" y="213" width="5" height="29" fill="#0f0f0f"/>
<rect x="1030" y="220" width="1" height="24" fill="#2962ff"/>
<rect x="1028" y="235" width="5" height="7" fill="#2962ff"/>
<rect x="1036" y="199" width="1" height="44" fill="#2962ff"/>
<rect x="1034" y="211" width="5" height="25" fill="#2962ff"/>
<rect x="1041" y="193" width="1" height="37" fill="#0f0f0f"/>
<rect x="1039" y="211" width="5" height="6" fill="#0f0f0f"/>
<rect x="1047" y="206" width="1" height="49" fill="#0f0f0f"/>
<rect x="1045" y="216" width="5" height="18" fill="#0f0f0f"/>
<rect x="1053" y="208" width="1" height="46" fill="#0f0f0f"/>
<rect x="1051" y="233" width="5" height="19" fill="#0f0f0f"/>
<rect x="1059" y="245" width="1" height="26" fill="#0f0f0f"/>
<rect x="1057" y="251" width="5" height="7" fill="#0f0f0f"/>
<rect x="1065" y="245" width="1" height="36" fill="#0f0f0f"/>
<rect x="1063" y="257" width="5" height="21" fill="#0f0f0f"/>
</g>
<line x1="14" y1="277.5" x2="1398" y2="277.5" stroke="#131313" stroke-width="1" stroke-dasharray="1 2" shape-rendering="crispEdges"/>
</g>
<rect x="1109.3" y="95.1" width="67.40000000000009" height="32.900000000000006" rx="5.5" fill="#2962ff"/>
<polygon points="1113.5,127 1126,127 1102.0,144.5 1100.6000000000001,142.9" fill="#2962ff"/>
<circle cx="1099.4" cy="145.3" r="3.5" fill="#fff"/>
<circle cx="1099.4" cy="145.3" r="2.7" fill="#2962ff"/>
<text y="117.1" font-size="18" fill="#fff" font-weight="bold"><tspan x="1122.7" textLength="26.0" lengthAdjust="spacingAndGlyphs">4.1</tspan><tspan x="1150.8" textLength="13.1" lengthAdjust="spacingAndGlyphs">T</tspan></text>
<rect x="1103.5" y="246" width="50.90000000000009" height="32.39999999999998" rx="5.5" fill="#2962ff"/>
<polygon points="1108.3,277.4 1121.2,277.4 1096.1,295.4 1094.7,293.8" fill="#2962ff"/>
<circle cx="1093.5" cy="296.2" r="3.5" fill="#fff"/>
<circle cx="1093.5" cy="296.2" r="2.7" fill="#2962ff"/>
<text y="267.1" font-size="18" fill="#fff" font-weight="bold"><tspan x="1117.0" textLength="11.2" lengthAdjust="spacingAndGlyphs">4</tspan><tspan x="1129.4" textLength="12.2" lengthAdjust="spacingAndGlyphs">T</tspan></text>
<rect x="1115.3" y="317.9" width="77.5" height="32.0" rx="5.5" fill="#2962ff"/>
<polygon points="1120,348.9 1132,348.9 1107.8,366.8 1106.4,365.20000000000005" fill="#2962ff"/>
<circle cx="1105.2" cy="367.6" r="3.5" fill="#fff"/>
<circle cx="1105.2" cy="367.6" r="2.7" fill="#2962ff"/>
<text y="338.7" font-size="18" fill="#fff" font-weight="bold"><tspan x="1129.1" textLength="36.9" lengthAdjust="spacingAndGlyphs">3.95</tspan><tspan x="1167.2" textLength="12.7" lengthAdjust="spacingAndGlyphs">T</tspan></text>
<text y="70.9" font-size="18" fill="#131722" font-weight="normal" stroke="#131722" stroke-width="0.3"><tspan x="1469.3" textLength="35.1" lengthAdjust="spacingAndGlyphs">4.16</tspan><tspan x="1505.9" textLength="11.6" lengthAdjust="spacingAndGlyphs">T</tspan></text>
<text y="127.3" font-size="18" fill="#131722" font-weight="normal" stroke="#131722" stroke-width="0.3"><tspan x="1469.3" textLength="35.1" lengthAdjust="spacingAndGlyphs">4.12</tspan><tspan x="1505.9" textLength="11.6" lengthAdjust="spacingAndGlyphs">T</tspan></text>
<text y="183.7" font-size="18" fill="#131722" font-weight="normal" stroke="#131722" stroke-width="0.3"><tspan x="1469.3" textLength="35.1" lengthAdjust="spacingAndGlyphs">4.08</tspan><tspan x="1505.9" textLength="11.6" lengthAdjust="spacingAndGlyphs">T</tspan></text>
<text y="240.1" font-size="18" fill="#131722" font-weight="normal" stroke="#131722" stroke-width="0.3"><tspan x="1469.3" textLength="35.1" lengthAdjust="spacingAndGlyphs">4.04</tspan><tspan x="1505.9" textLength="11.6" lengthAdjust="spacingAndGlyphs">T</tspan></text>
<text y="352.9" font-size="18" fill="#131722" font-weight="normal" stroke="#131722" stroke-width="0.3"><tspan x="1470.1" textLength="34.3" lengthAdjust="spacingAndGlyphs">3.96</tspan><tspan x="1505.9" textLength="11.6" lengthAdjust="spacingAndGlyphs">T</tspan></text>
<text y="409.4" font-size="18" fill="#131722" font-weight="normal" stroke="#131722" stroke-width="0.3"><tspan x="1470.1" textLength="34.3" lengthAdjust="spacingAndGlyphs">3.92</tspan><tspan x="1505.9" textLength="11.6" lengthAdjust="spacingAndGlyphs">T</tspan></text>
<text y="465.8" font-size="18" fill="#131722" font-weight="normal" stroke="#131722" stroke-width="0.3"><tspan x="1470.1" textLength="34.3" lengthAdjust="spacingAndGlyphs">3.88</tspan><tspan x="1505.9" textLength="11.6" lengthAdjust="spacingAndGlyphs">T</tspan></text>
<text y="522.2" font-size="18" fill="#131722" font-weight="normal" stroke="#131722" stroke-width="0.3"><tspan x="1470.1" textLength="34.3" lengthAdjust="spacingAndGlyphs">3.84</tspan><tspan x="1505.9" textLength="11.6" lengthAdjust="spacingAndGlyphs">T</tspan></text>
<text y="578.6" font-size="18" fill="#131722" font-weight="normal" stroke="#131722" stroke-width="0.3"><tspan x="1470.1" textLength="25.2" lengthAdjust="spacingAndGlyphs">3.8</tspan><tspan x="1496.8" textLength="11.4" lengthAdjust="spacingAndGlyphs">T</tspan></text>
<text y="635.0" font-size="18" fill="#131722" font-weight="normal" stroke="#131722" stroke-width="0.3"><tspan x="1470.1" textLength="34.3" lengthAdjust="spacingAndGlyphs">3.76</tspan><tspan x="1505.9" textLength="11.6" lengthAdjust="spacingAndGlyphs">T</tspan></text>
<text y="691.4" font-size="18" fill="#131722" font-weight="normal" stroke="#131722" stroke-width="0.3"><tspan x="1470.1" textLength="34.3" lengthAdjust="spacingAndGlyphs">3.72</tspan><tspan x="1505.9" textLength="11.6" lengthAdjust="spacingAndGlyphs">T</tspan></text>
<text y="747.8" font-size="18" fill="#131722" font-weight="normal" stroke="#131722" stroke-width="0.3"><tspan x="1470.1" textLength="34.3" lengthAdjust="spacingAndGlyphs">3.68</tspan><tspan x="1505.9" textLength="11.6" lengthAdjust="spacingAndGlyphs">T</tspan></text>
<path d="M1458 265 v24.8 h-57.5 a2.5 2.5 0 0 1 -2.5 -2.5 v-19.8 a2.5 2.5 0 0 1 2.5 -2.5 z" fill="#0f0f0f"/>
<text x="1402.6" y="284" font-size="17.8" fill="#fff" font-weight="normal" text-anchor="start" textLength="50.4" lengthAdjust="spacingAndGlyphs" stroke="#fff" stroke-width="0.3">TOTAL</text>
<path d="M1459 265 h84.5 a2.5 2.5 0 0 1 2.5 2.5 v39.7 a2.5 2.5 0 0 1 -2.5 2.5 h-84.5 z" fill="#0f0f0f"/>
<text y="284" font-size="18" fill="#fff" font-weight="normal" stroke="#fff" stroke-width="0.75"><tspan x="1470.2" textLength="33.3" lengthAdjust="spacingAndGlyphs">4.01</tspan><tspan x="1506.3" textLength="11.5" lengthAdjust="spacingAndGlyphs">T</tspan></text>
<text x="1470.4" y="303.7" font-size="17.2" fill="#b4b4b4" font-weight="normal" text-anchor="start" textLength="69" lengthAdjust="spacingAndGlyphs" stroke="#b4b4b4" stroke-width="0.3">01:48:57</text>
<path d="M1459 315 h63.4 a2.5 2.5 0 0 1 2.5 2.5 v19.8 a2.5 2.5 0 0 1 -2.5 2.5 h-63.4 z" fill="#f23645"/>
<text y="333.8" font-size="18" fill="#fff" font-weight="normal" stroke="#fff" stroke-width="0.3"><tspan x="1471.0" textLength="34.3" lengthAdjust="spacingAndGlyphs">3.97</tspan><tspan x="1506.3" textLength="11.5" lengthAdjust="spacingAndGlyphs">T</tspan></text>
<path d="M1459 438 h63.4 a2.5 2.5 0 0 1 2.5 2.5 v19.8 a2.5 2.5 0 0 1 -2.5 2.5 h-63.4 z" fill="#4caf50"/>
<text y="457" font-size="18" fill="#fff" font-weight="normal" stroke="#fff" stroke-width="0.3"><tspan x="1470.7" textLength="34.4" lengthAdjust="spacingAndGlyphs">3.89</tspan><tspan x="1506.3" textLength="11.6" lengthAdjust="spacingAndGlyphs">T</tspan></text>
<text x="86.5" y="779" font-size="17.8" fill="#131722" font-weight="normal" text-anchor="middle" textLength="18.6" lengthAdjust="spacingAndGlyphs" stroke="#131722" stroke-width="0.3">22</text>
<text x="190.6" y="779" font-size="17.8" fill="#131722" font-weight="normal" text-anchor="middle" textLength="18.6" lengthAdjust="spacingAndGlyphs" stroke="#131722" stroke-width="0.3">25</text>
<text x="294.8" y="779" font-size="17.8" fill="#131722" font-weight="normal" text-anchor="middle" textLength="18.6" lengthAdjust="spacingAndGlyphs" stroke="#131722" stroke-width="0.3">28</text>
<text x="433.9" y="779" font-size="17.8" fill="#131722" font-weight="normal" text-anchor="middle" textLength="29.6" lengthAdjust="spacingAndGlyphs" stroke="#131722" stroke-width="0.8">Sep</text>
<text x="538" y="779" font-size="17.8" fill="#131722" font-weight="normal" text-anchor="middle" stroke="#131722" stroke-width="0.3">4</text>
<text x="642" y="779" font-size="17.8" fill="#131722" font-weight="normal" text-anchor="middle" stroke="#131722" stroke-width="0.3">7</text>
<text x="746.3" y="779" font-size="17.8" fill="#131722" font-weight="normal" text-anchor="middle" textLength="18.6" lengthAdjust="spacingAndGlyphs" stroke="#131722" stroke-width="0.3">10</text>
<text x="850.5" y="779" font-size="17.8" fill="#131722" font-weight="normal" text-anchor="middle" textLength="18.6" lengthAdjust="spacingAndGlyphs" stroke="#131722" stroke-width="0.3">13</text>
<text x="955" y="779" font-size="17.8" fill="#131722" font-weight="normal" text-anchor="middle" textLength="18.6" lengthAdjust="spacingAndGlyphs" stroke="#131722" stroke-width="0.3">16</text>
<text x="1059.4" y="779" font-size="17.8" fill="#131722" font-weight="normal" text-anchor="middle" textLength="18.6" lengthAdjust="spacingAndGlyphs" stroke="#131722" stroke-width="0.3">19</text>
<text x="1163" y="779" font-size="17.8" fill="#131722" font-weight="normal" text-anchor="middle" textLength="18.6" lengthAdjust="spacingAndGlyphs" stroke="#131722" stroke-width="0.3">22</text>
<text x="1267.3" y="779" font-size="17.8" fill="#131722" font-weight="normal" text-anchor="middle" textLength="18.6" lengthAdjust="spacingAndGlyphs" stroke="#131722" stroke-width="0.3">25</text>
<text x="1371.5" y="779" font-size="17.8" fill="#131722" font-weight="normal" text-anchor="middle" textLength="18.6" lengthAdjust="spacingAndGlyphs" stroke="#131722" stroke-width="0.3">28</text>
<text x="842.5" y="736.1" font-size="18.2" fill="#0a0a0a" font-weight="normal" text-anchor="start" textLength="34.2" lengthAdjust="spacingAndGlyphs" stroke="#0a0a0a" stroke-width="0.4">3.68</text>
<g>
<circle cx="1065.7" cy="736.4" r="12.5" fill="#fff" stroke="#9c27b0" stroke-width="1.8"/>
<circle cx="1074" cy="727.9" r="5.6" fill="#fff"/>
<circle cx="1074" cy="727.9" r="3.15" fill="#f23645"/>
<path d="M1068.7 729.6 L1060.5 736.9 L1065.2 736.9 L1061.6 743.1 L1070.7 735.4 L1066 735.4 Z" fill="#9c27b0"/>
</g>
<g>
<circle cx="1215" cy="736.7" r="13.1" fill="#fff" stroke="#f23645" stroke-width="2"/>
<defs><clipPath id="flag"><circle cx="1215" cy="736.8" r="10.2"/></clipPath></defs>
<g clip-path="url(#flag)">
<rect x="1204" y="726" width="22" height="22" fill="#f4f5f8"/>
<rect x="1204" y="726" width="22" height="4.9" fill="#ef5350"/>
<rect x="1204" y="734.85" width="22" height="4.05" fill="#ef5350"/>
<rect x="1204" y="742.5" width="22" height="5.5" fill="#ef5350"/>
<rect x="1204" y="726" width="13.1" height="12.9" fill="#1e88e5"/>
<circle cx="1207.7" cy="729.6" r="0.85" fill="#fff"/>
<circle cx="1211" cy="729.6" r="0.85" fill="#fff"/>
<circle cx="1214.3" cy="729.6" r="0.85" fill="#fff"/>
<circle cx="1207.7" cy="732.9" r="0.85" fill="#fff"/>
<circle cx="1211" cy="732.9" r="0.85" fill="#fff"/>
<circle cx="1214.3" cy="732.9" r="0.85" fill="#fff"/>
<circle cx="1207.7" cy="736.2" r="0.85" fill="#fff"/>
<circle cx="1211" cy="736.2" r="0.85" fill="#fff"/>
<circle cx="1214.3" cy="736.2" r="0.85" fill="#fff"/>
</g></g>
<g fill="#0f0f0f">
<path d="M15.4 820.4 H30.3 V839 H23.05 V827.8 H15.4 Z"/>
<circle cx="36.9" cy="824.3" r="3.95"/>
<path d="M44.3 820.4 H53 L45.7 839 H36.9 Z"/>
</g>
<text x="61.6" y="839" font-size="26.2" fill="#0f0f0f" font-weight="bold" text-anchor="start" textLength="152" lengthAdjust="spacingAndGlyphs">TradingView</text>
</svg></body></html>
